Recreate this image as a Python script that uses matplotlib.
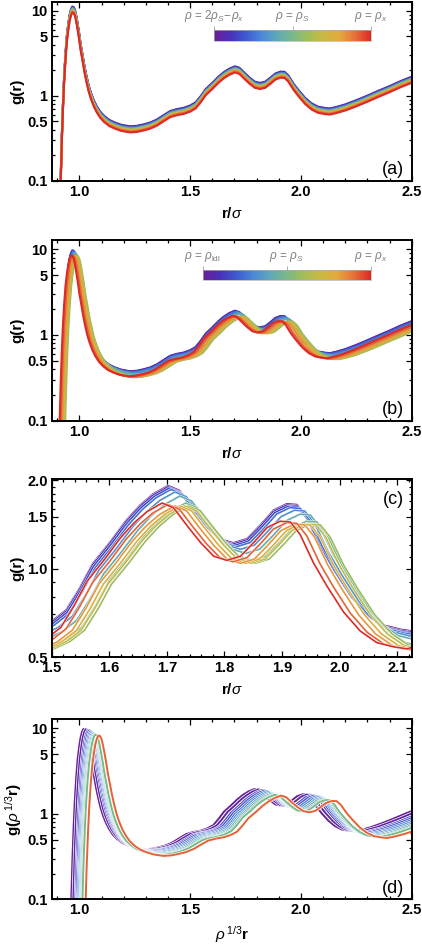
import numpy as np
import matplotlib
matplotlib.use('Agg')
from matplotlib import pyplot as plt
from matplotlib.colors import LinearSegmentedColormap, Normalize
from matplotlib.cm import ScalarMappable
from matplotlib.ticker import FixedLocator, MultipleLocator, NullFormatter
import matplotlib.patheffects as pe

plt.rcParams['font.family'] = ['Liberation Sans', 'DejaVu Sans']
plt.rcParams['mathtext.fontset'] = 'custom'
plt.rcParams['mathtext.rm'] = 'Liberation Sans'
plt.rcParams['mathtext.it'] = 'Liberation Sans:italic'
plt.rcParams['mathtext.bf'] = 'Liberation Sans:bold'

# reference g(r) (log y)
R_BASE = [0.905, 0.916, 0.921, 0.926, 0.931, 0.937, 0.943, 0.950, 0.956, 0.962,
          0.968, 0.974, 0.980, 0.986, 0.992, 0.999, 1.006, 1.014, 1.022, 1.032,
          1.042, 1.052, 1.064, 1.078, 1.094, 1.112, 1.135, 1.160, 1.190, 1.229,
          1.260, 1.290, 1.320, 1.350, 1.380, 1.410, 1.440, 1.470, 1.500, 1.525,
          1.548, 1.571, 1.600, 1.629, 1.653, 1.676, 1.702, 1.722, 1.746, 1.769,
          1.792, 1.815, 1.839, 1.862, 1.885, 1.908, 1.926, 1.943, 1.966, 1.990,
          2.019, 2.048, 2.077, 2.106, 2.130, 2.160, 2.200, 2.250, 2.300, 2.350,
          2.400, 2.450, 2.500, 2.530]
G_BASE = [0.03, 0.10, 0.30, 0.70, 1.4, 2.6, 4.2, 6.0, 7.6, 8.8,
          9.5, 9.4, 8.7, 7.4, 6.0, 4.6, 3.4, 2.6, 1.95, 1.45,
          1.12, 0.92, 0.76, 0.64, 0.55, 0.49, 0.44, 0.41, 0.385, 0.37,
          0.375, 0.39, 0.41, 0.445, 0.50, 0.56, 0.59, 0.61, 0.65, 0.71,
          0.84, 1.02, 1.20, 1.43, 1.61, 1.76, 1.88, 1.81, 1.57, 1.38,
          1.24, 1.20, 1.24, 1.38, 1.55, 1.63, 1.62, 1.47, 1.18, 0.98,
          0.80, 0.69, 0.63, 0.61, 0.60, 0.625, 0.67, 0.75, 0.85, 0.97,
          1.10, 1.26, 1.42, 1.52]

# (a) rho from 2rho_S-rho_x to rho_x
A_T = [0.0, 0.09, 0.18, 0.27, 0.36, 0.45, 0.55, 0.64, 0.73, 0.82, 0.91, 1.0]
A_SCALE = [1.18, 1.165, 1.15, 1.135, 1.12, 1.105, 1.09, 1.075, 1.06, 1.045, 1.025, 1.0]

# (b),(c) rho from rho_ldl to rho_x
B_T = [0.0, 0.08, 0.17, 0.25, 0.33, 0.42, 0.50, 0.58, 0.67, 0.75, 0.83, 0.92, 1.0]
B_XSCALE = [1.0, 1.0, 1.001, 1.003, 1.007, 1.012, 1.018, 1.021, 1.017, 1.012, 1.007, 1.0, 0.994]
B_SCALE = [1.02, 1.01, 1.0, 0.99, 0.97, 0.94, 0.89, 0.87, 0.87, 0.87, 0.87, 0.88, 0.89]

# (d) rescaled distance
D_T = [0.0, 0.04, 0.12, 0.18, 0.24, 0.30, 0.36, 0.41, 0.46, 0.50, 0.92]
D_XSCALE = [1.052, 1.062, 1.072, 1.078, 1.084, 1.089, 1.094, 1.098, 1.102, 1.106, 1.122]
D_SCALE = [1.04, 1.03, 1.01, 1.0, 0.98, 0.96, 0.94, 0.92, 0.90, 0.89, 0.87]

CMAP_COLORS = ['#6a1f96', '#4a30b8', '#3d5ad0', '#4a88d8', '#5fa8b8', '#7ab88a',
               '#a2bd58', '#cbb843', '#e3a93d', '#e8703a', '#dc2a26']
cmap = LinearSegmentedColormap.from_list('rainbow_m', CMAP_COLORS)

LOG_TICKS = [0.1, 0.5, 1, 5, 10]
LOG_LABELS = ['0.1', '0.5', '1', '5', '10']
X_TICKS = [1.0, 1.5, 2.0, 2.5]
C_XTICKS = [1.5, 1.6, 1.7, 1.8, 1.9, 2.0, 2.1]
C_YTICKS = [0.5, 1.0, 1.5, 2.0]

r = np.array(R_BASE)
g = np.array(G_BASE)

fig = plt.figure(figsize=(4.22, 9.46), dpi=100)
L, W = 0.1225, 0.853
axa = fig.add_axes([L, 0.809, W, 0.1892])
axb = fig.add_axes([L, 0.5553, W, 0.191])
axc = fig.add_axes([L, 0.3052, W, 0.1885])
axd = fig.add_axes([L, 0.0494, W, 0.1902])


def frame(ax):
    ax.tick_params(which='both', direction='in', top=True, right=True, width=0.9,
                   labelsize=10.5, pad=3)
    ax.tick_params(which='major', length=4)
    ax.tick_params(which='minor', length=2.2)
    for s in ax.spines.values():
        s.set_linewidth(1.4)
    for lab in ax.get_xticklabels() + ax.get_yticklabels():
        lab.set_fontweight('bold')


def logframe(ax):
    ax.set_yscale('log')
    ax.set_xlim(0.875, 2.5)
    ax.set_ylim(0.1, 12.8)
    ax.set_xticks(X_TICKS, labels=['%.1f' % v for v in X_TICKS])
    ax.xaxis.set_minor_locator(MultipleLocator(0.1))
    ax.set_yticks(LOG_TICKS, labels=LOG_LABELS)
    ax.yaxis.set_minor_formatter(NullFormatter())
    frame(ax)


def rhobar(ax, rect, labels):
    cax = ax.inset_axes(rect)
    cb = fig.colorbar(ScalarMappable(norm=Normalize(0, 1), cmap=cmap), cax=cax,
                      orientation='horizontal')
    cb.outline.set_edgecolor('#b0b0b0')
    cb.outline.set_linewidth(0.5)
    cax.xaxis.set_ticks_position('top')
    cax.set_xticks([0, 0.5, 1], labels=labels)
    cax.tick_params(length=3, width=0.6, color='#a0a0a0', labelsize=8.5,
                    labelcolor='#808080', pad=1.5)


# (a)
for t, s in zip(A_T, A_SCALE):
    axa.plot(r, g * s, color=cmap(t), lw=1.5)
logframe(axa)
axa.set_ylabel('g(r)', fontsize=11, fontweight='bold', labelpad=2)
axa.set_xlabel(r'r/$\sigma$', fontsize=11, fontweight='bold', labelpad=5)
axa.text(0.978, 0.035, '(a)', transform=axa.transAxes, ha='right', va='baseline', fontsize=13)
rhobar(axa, [0.451, 0.782, 0.436, 0.06],
       [r'$\rho$ = 2$\rho_S\!-\!\rho_x$', r'$\rho$ = $\rho_S$', r'$\rho$ = $\rho_x$'])

# (b)
for t, xs, s in zip(B_T, B_XSCALE, B_SCALE):
    axb.plot(r * xs, g * s, color=cmap(t), lw=1.5)
logframe(axb)
axb.set_ylabel('g(r)', fontsize=11, fontweight='bold', labelpad=2)
axb.set_xlabel(r'r/$\sigma$', fontsize=11, fontweight='bold', labelpad=5)
axb.text(0.978, 0.035, '(b)', transform=axb.transAxes, ha='right', va='baseline', fontsize=13)
rhobar(axb, [0.419, 0.777, 0.4675, 0.057],
       [r'$\rho$ = $\rho_{\rm ldl}$', r'$\rho$ = $\rho_S$', r'$\rho$ = $\rho_x$'])

# (c) zoom of (b)
stroke = [pe.Stroke(linewidth=1.8, foreground='white'), pe.Normal()]
for t, xs, s in zip(B_T, B_XSCALE, B_SCALE):
    axc.plot(r * xs, g * s, color=cmap(t), lw=1.2, path_effects=stroke)
axc.set_yscale('log')
axc.set_xlim(1.5, 2.125)
axc.set_ylim(0.5, 2.02)
axc.set_xticks(C_XTICKS, labels=['%.1f' % v for v in C_XTICKS])
axc.xaxis.set_minor_locator(MultipleLocator(0.02))
axc.set_yticks(C_YTICKS, labels=['%.1f' % v for v in C_YTICKS])
axc.yaxis.set_minor_locator(FixedLocator([0.6, 0.7, 0.8, 0.9, 1.1, 1.2, 1.3, 1.4,
                                          1.6, 1.7, 1.8, 1.9]))
axc.yaxis.set_minor_formatter(NullFormatter())
frame(axc)
axc.set_ylabel('g(r)', fontsize=11, fontweight='bold', labelpad=2)
axc.set_xlabel(r'r/$\sigma$', fontsize=11, fontweight='bold', labelpad=5)
axc.text(0.978, 0.93, '(c)', transform=axc.transAxes, ha='right', va='top', fontsize=13)

# (d)
stroke_d = [pe.Stroke(linewidth=2.4, foreground='white'), pe.Normal()]
for t, xs, s in zip(D_T, D_XSCALE, D_SCALE):
    axd.plot(r * xs, g * s, color=cmap(t), lw=1.4, path_effects=stroke_d)
logframe(axd)
axd.set_ylabel(r'g($\rho^{\,1/3}$r)', fontsize=11, fontweight='bold', labelpad=2)
axd.set_xlabel(r'$\rho^{\,1/3}$r', fontsize=11, fontweight='bold', labelpad=5)
axd.text(0.978, 0.035, '(d)', transform=axd.transAxes, ha='right', va='baseline', fontsize=13)

fig.savefig('out.png', dpi=100)
